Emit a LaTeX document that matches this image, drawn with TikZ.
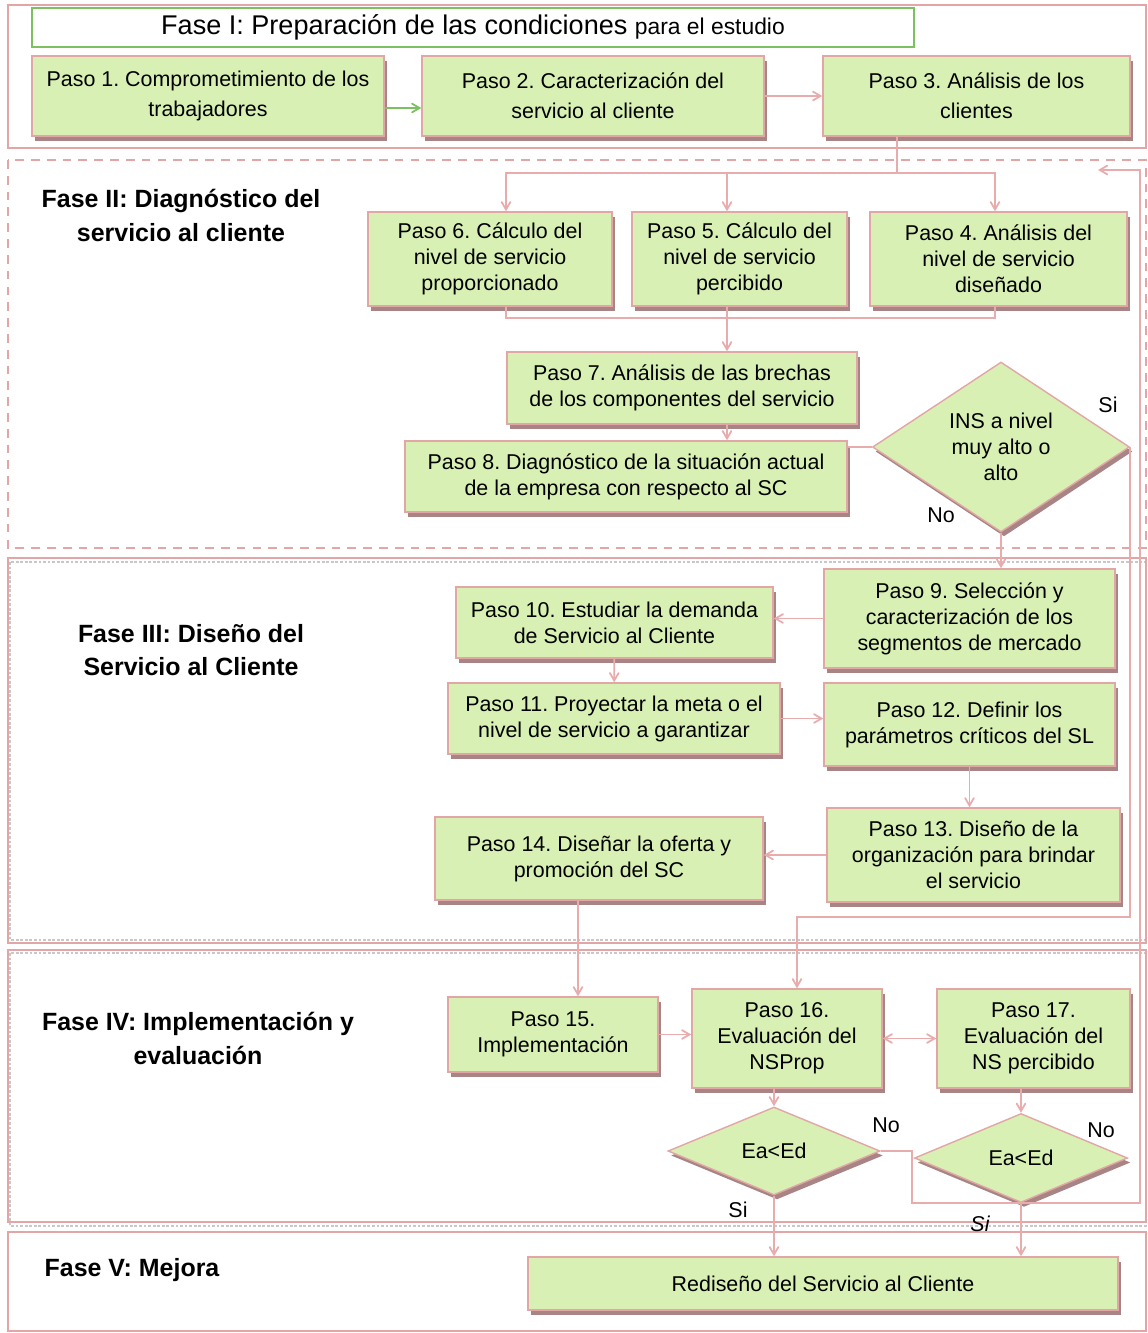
\documentclass[tikz,border=0pt]{standalone}
\usepackage{fontspec}
\setmainfont{Liberation Sans}
\frenchspacing
\usetikzlibrary{arrows,shapes.geometric,shadows}
\definecolor{verde}{RGB}{216,240,180}
\definecolor{rosa}{RGB}{226,166,166}
\definecolor{linea}{RGB}{232,172,172}
\definecolor{sombra}{RGB}{168,132,132}
\definecolor{borde}{RGB}{125,192,95}
\definecolor{gris}{RGB}{200,200,200}

\begin{document}
\begin{tikzpicture}[x = 0.02cm, y = -0.02cm, >= angle 60,
  dim/.style 2 args = {minimum width = #1*0.02cm, minimum height = #2*0.02cm},
  paso/.style = {draw = rosa, fill = verde, line width = 0.8pt, align = center, inner sep = 0pt,
    font = \fontsize{12.2}{14.8}\selectfont,
    drop shadow = {shadow xshift = 0.06cm, shadow yshift = -0.09cm, fill = sombra, opacity = 1}},
  pasoI/.style = {paso, font = \fontsize{12.2}{17}\selectfont},
  cond/.style = {paso, diamond, aspect = 1.5},
  fase/.style = {align = center, font = \bfseries\fontsize{14.2}{19}\selectfont},
  etq/.style = {font = \fontsize{12.2}{14}\selectfont},
  con/.style = {draw = linea, line width = 1pt},
  fl/.style = {con, ->}]
\useasboundingbox (0,0) rectangle (1148,1333);
\draw[rosa, line width = 0.6pt] (8,5) rectangle (1146,148);
\draw[rosa, line width = 0.6pt, dash pattern = on 5pt off 4pt] (8,160) rectangle (1146,548);
\draw[gris, line width = 1.6pt, densely dotted] (10,562) rectangle (1146,940);
\draw[rosa, line width = 0.6pt] (8,558) rectangle (1146,943);
\draw[gris, line width = 1.6pt, densely dotted] (10,953) rectangle (1146,1226);
\draw[rosa, line width = 0.6pt] (8,950) rectangle (1146,1222);
\draw[rosa, line width = 0.6pt] (8,1232) rectangle (1146,1331);

\node[draw = borde, line width = 1pt, dim = {882}{39}] (t1) at (473,27.5) {\fontsize{15.4}{18}\selectfont Fase I: Preparación de las condiciones \fontsize{13}{16}\selectfont para el estudio};
\node[pasoI, dim = {352}{80}] (p1) at (208,96) {Paso 1. Comprometimiento de los\\trabajadores};
\node[pasoI, dim = {342}{80}] (p2) at (593,96) {Paso 2. Caracterización del\\servicio al cliente};
\node[pasoI, dim = {307}{80}] (p3) at (976.5,96) {Paso 3. Análisis de los\\clientes};

\node[fase] (f2) at (181,215.5) {Fase II: Diagnóstico del\\servicio al cliente};
\node[paso, dim = {244}{94}] (p6) at (490,259) {Paso 6. Cálculo del\\nivel de servicio\\proporcionado};
\node[paso, dim = {215}{94}] (p5) at (739.5,259) {Paso 5. Cálculo del\\nivel de servicio\\percibido};
\node[paso, dim = {257}{94}] (p4) at (998.5,259) {Paso 4. Análisis del\\nivel de servicio\\diseñado};
\node[paso, dim = {350}{72}] (p7) at (682,388) {Paso 7. Análisis de las brechas\\de los componentes del servicio};
\node[paso, dim = {442}{71}] (p8) at (626,476.5) {Paso 8. Diagnóstico de la situación actual\\de la empresa con respecto al SC};
\node[cond, dim = {257}{170}] (d1) at (1001,447) {INS a nivel\\muy alto o\\alto};
\node[etq] (si1) at (1108,405) {Si};
\node[etq] (no1) at (941,515) {No};

\node[fase] (f3) at (191,650) {Fase III: Diseño del\\Servicio al Cliente};
\node[paso, dim = {291}{99}] (p9) at (969.5,618.5) {Paso 9. Selección y\\caracterización de los\\segmentos de mercado};
\node[paso, dim = {317}{71}] (p10) at (614.5,622.5) {Paso 10. Estudiar la demanda\\de Servicio al Cliente};
\node[paso, dim = {332}{71}] (p11) at (614,718.5) {Paso 11. Proyectar la meta o el\\nivel de servicio a garantizar};
\node[paso, dim = {291}{83}] (p12) at (969.5,724.5) {Paso 12. Definir los\\parámetros críticos del SL};
\node[paso, dim = {293}{94}] (p13) at (973.5,855) {Paso 13. Diseño de la\\organización para brindar\\el servicio};
\node[paso, dim = {328}{83}] (p14) at (599,858.5) {Paso 14. Diseñar la oferta y\\promoción del SC};

\node[fase] (f4) at (198,1038.5) {Fase IV: Implementación y\\evaluación};
\node[paso, dim = {210}{75}] (p15) at (553,1034.5) {Paso 15.\\Implementación};
\node[paso, dim = {190}{99}] (p16) at (787,1038.5) {Paso 16.\\Evaluación del\\NSProp};
\node[paso, dim = {193}{99}] (p17) at (1033.5,1038.5) {Paso 17.\\Evaluación del\\NS percibido};
\node[cond, aspect = 2.4, dim = {212}{88}] (d2) at (774,1151) {Ea<Ed};
\node[cond, aspect = 2.4, dim = {213}{89}] (d3) at (1021,1158) {Ea<Ed};
\node[etq] (no2) at (886,1125) {No};
\node[etq] (no3) at (1101,1130) {No};
\node[etq] (si2) at (738,1210) {Si};
\node[etq, font = \itshape\fontsize{12.2}{14}\selectfont] (si3) at (980,1224) {Si};

\node[fase] (f5) at (132,1270) {Fase V: Mejora};
\node[paso, dim = {590}{53}] (r) at (823,1283.5) {Rediseño del Servicio al Cliente};

\coordinate (j1) at (897,173);
\coordinate (j2) at (727,318);
\coordinate (c6) at (506,0);
\coordinate (c5) at (727,0);
\coordinate (c4) at (995,0);
\coordinate (c14) at (578,0);
\coordinate (s1) at (797,917);
\coordinate (n1) at (912,1203);
\coordinate (n2) at (1140,170);
\coordinate (n3) at (1098,170);

\draw[fl, draw = borde] ([yshift = -0.24cm]p1.east) -- ([yshift = -0.24cm]p2.west);
\draw[fl] (p2) -- (p3);
\draw[con] (p3.south -| j1) -- (j1);
\draw[fl] (j1) -| (p6.north -| c6);
\draw[fl] (j1) -| (p5.north -| c5);
\draw[fl] (j1) -| (p4.north -| c4);
\draw[con] (p6.south -| c6) |- (j2) -| (p4.south -| c4);
\draw[fl] (p5.south -| c5) -- (p7.north -| c5);
\draw[fl] (p7.south -| c5) -- (p8.north -| c5);
\draw[con] (p8.east |- d1) -- (d1);
\draw[fl] (d1.south) -- (d1.south |- p9.north);
\draw[fl] (d1.east) |- (s1) -- (s1 |- p16.north);
\draw[fl] (p9.west) -- (p9.west -| p10.east);
\draw[fl] (p10) -- (p11);
\draw[fl] (p11.east) -- (p11.east -| p12.west);
\draw[fl] (p12.south) -- (p12.south |- p13.north);
\draw[fl] (p13.west) -- (p13.west -| p14.east);
\draw[fl] (p14.south -| c14) -- (p15.north -| c14);
\draw[fl] (p15.east) -- (p15.east -| p16.west);
\draw[con, <->] (p16) -- (p17);
\draw[fl] (d2.north |- p16.south) -- (d2.north);
\draw[fl] (d3.north |- p17.south) -- (d3.north);
\draw[fl] (d2.south) -- (d2.south |- r.north);
\draw[fl] (d3.south) -- (d3.south |- r.north);
\draw[fl] (d2.east) -| (n1) -| (n2) -- (n3);
\end{tikzpicture}
\end{document}
